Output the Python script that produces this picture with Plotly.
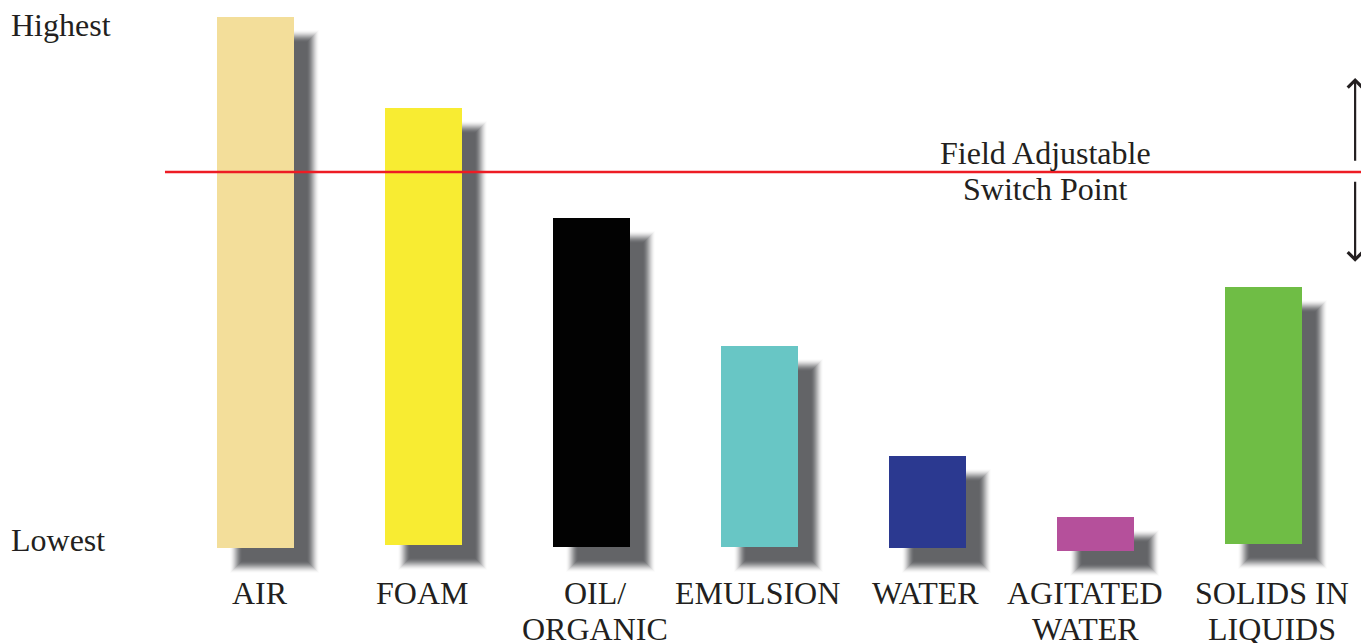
import plotly.graph_objects as go

# ---- data ----
categories = ["AIR", "FOAM", "OIL/ORGANIC", "EMULSION", "WATER", "AGITATED WATER", "SOLIDS IN LIQUIDS"]
label_line1 = ["AIR", "FOAM", "OIL/", "EMULSION", "WATER", "AGITATED", "SOLIDS IN"]
label_line2 = ["", "", "ORGANIC", "", "", "WATER", "LIQUIDS"]
level_top = [100.0, 82.8, 62.1, 37.9, 17.2, 5.7, 49.1]
level_base = [-0.2, 0.4, 0.0, 0.0, -0.2, -0.75, 0.6]
bar_colors = ["#f3de9a", "#f8ec32", "#020202", "#68c6c5", "#2b3990", "#b5509b", "#6fbd45"]
switch_point = 70.75
scale_labels = ["Highest", "Lowest"]
scale_levels = [98.5, 1.3]

# ---- geometry helpers (pixel -> data units) ----
W, H = 1361, 643
x_range = [-1.521, 6.580]
y_range = [-18.11, 103.2]
px_x = (x_range[1] - x_range[0]) / W
px_y = (y_range[1] - y_range[0]) / H
bar_w = 77 * px_x
xs = list(range(len(categories)))
label_nudge_px = [4.5, -1.5, 3.5, -2.5, -2.5, -10.5, 8.5]  # label placement tweaks

TXT = "#231f20"
FONT = "Liberation Serif, Times New Roman, serif"
FS = 32

fig = go.Figure()

# drop shadows: graded solid layers from outermost (light) to innermost (dark) to imitate blur
off_x, off_y = 19 * px_x, 19 * px_y
shadow_rgb = (99, 100, 103)
g_max, g_min = 7, -6
for g in range(g_max, g_min - 1, -1):
    t = (g_max - g) / (g_max - g_min)
    t = t * t * (3 - 2 * t)  # smoothstep
    col = "rgb({},{},{})".format(*[round(255 + (c - 255) * t) for c in shadow_rgb])
    fig.add_trace(go.Bar(
        x=[x + off_x for x in xs],
        y=[(tp - b) + 2 * g * px_y for tp, b in zip(level_top, level_base)],
        base=[b - off_y - g * px_y for b in level_base],
        width=bar_w + 2 * g * px_x,
        marker=dict(color=col, line=dict(width=0)),
        hoverinfo="skip", showlegend=False,
    ))

# main bars
fig.add_trace(go.Bar(
    x=xs,
    y=[t - b for t, b in zip(level_top, level_base)],
    base=level_base,
    width=bar_w,
    marker=dict(color=bar_colors, line=dict(width=0)),
    hovertext=categories, hoverinfo="text", showlegend=False,
))

# switch point line
fig.add_trace(go.Scatter(
    x=[-0.539, x_range[1]], y=[switch_point, switch_point], mode="lines",
    line=dict(color="#ed1c24", width=2.5), hoverinfo="skip", showlegend=False,
))

ann = []
for x, l1, l2, nd in zip(xs, label_line1, label_line2, label_nudge_px):
    ann.append(dict(x=x + nd * px_x, y=-8.7, text=l1, showarrow=False, xanchor="center", yanchor="middle",
                    font=dict(family=FONT, size=FS, color=TXT)))
    if l2:
        ann.append(dict(x=x + nd * px_x, y=-15.5, text=l2, showarrow=False, xanchor="center", yanchor="middle",
                        font=dict(family=FONT, size=FS, color=TXT)))
for t, lv in zip(scale_labels, scale_levels):
    ann.append(dict(x=x_range[0] + 9 * px_x, y=lv, text=t, showarrow=False, xanchor="left", yanchor="middle",
                    font=dict(family=FONT, size=FS, color=TXT)))
ann.append(dict(x=4.70, y=switch_point + 3.55, text="Field Adjustable", showarrow=False,
                xanchor="center", yanchor="middle", font=dict(family=FONT, size=FS, color=TXT)))
ann.append(dict(x=4.70, y=switch_point - 3.25, text="Switch Point", showarrow=False,
                xanchor="center", yanchor="middle", font=dict(family=FONT, size=FS, color=TXT)))
# arrows
ax_x = 6.545
ann.append(dict(x=ax_x, y=88.5, ax=ax_x, ay=72.6, xref="x", yref="y", axref="x", ayref="y",
                showarrow=True, arrowhead=4, arrowsize=1.3, arrowwidth=2.2, arrowcolor=TXT, text=""))
ann.append(dict(x=ax_x, y=53.8, ax=ax_x, ay=69.2, xref="x", yref="y", axref="x", ayref="y",
                showarrow=True, arrowhead=4, arrowsize=1.3, arrowwidth=2.2, arrowcolor=TXT, text=""))

fig.update_layout(
    width=W, height=H, margin=dict(l=0, r=0, t=0, b=0),
    paper_bgcolor="white", plot_bgcolor="white",
    barmode="overlay", bargap=0,
    xaxis=dict(range=x_range, visible=False, fixedrange=True),
    yaxis=dict(range=y_range, visible=False, fixedrange=True),
    annotations=ann, showlegend=False,
)
fig.write_html("out.html", config={"displayModeBar": False},
               post_script="document.body.style.margin='0';document.documentElement.style.overflow='hidden';")
